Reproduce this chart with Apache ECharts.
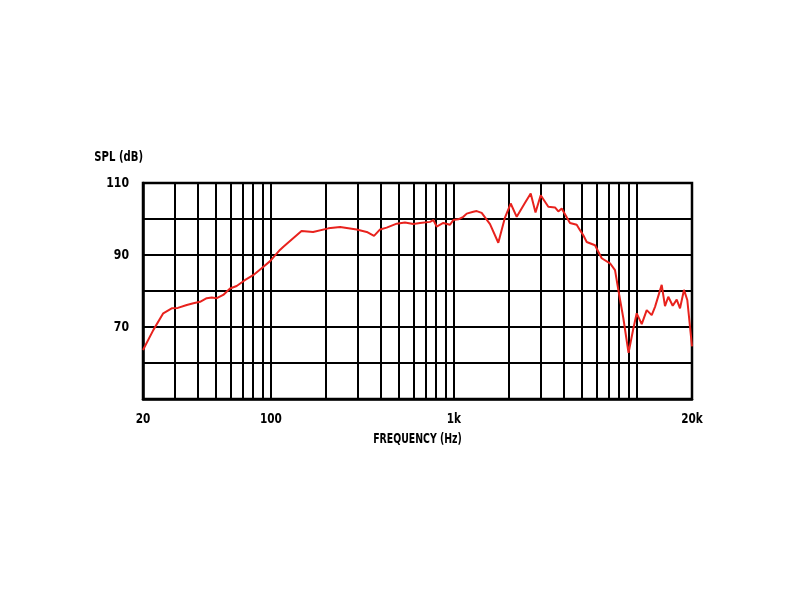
<!DOCTYPE html>
<html>
<head>
<meta charset="utf-8">
<script src="https://cdn.jsdelivr.net/npm/echarts@6/dist/echarts.min.js"></script>
<style>
html,body{margin:0;padding:0;background:#fff;}
#chart{width:800px;height:600px;}
</style>
</head>
<body>
<div id="chart"></div>
<script>
// Frequency (Hz) and SPL (dB)
const freqs = [20, 22.8, 25.8, 28.7, 31, 34.7, 37.7, 41, 44.6, 47.5, 50.6, 54.9, 59.8, 65, 72, 80, 89, 99, 112, 117, 147, 170, 206, 239, 294, 334, 366, 395, 429, 487, 540, 600, 653, 740, 772, 805, 875, 952, 992, 1057, 1126, 1175, 1276, 1332, 1418, 1575, 1748, 1901, 2043, 2204, 2447, 2628, 2792, 2980, 3280, 3568, 3720, 3882, 4308, 4688, 4887, 5094, 5317, 5902, 6421, 7129, 7592, 7915, 8427, 9000, 9556, 9974, 10624, 11314, 12048, 12561, 13660, 14240, 14840, 15690, 16500, 17200, 18080, 18850, 20000];
const spl = [63.6, 69.2, 73.8, 75.2, 75.3, 76.1, 76.6, 77, 78, 78.2, 78, 78.9, 80.7, 81.4, 83, 84.4, 86.3, 88.3, 91.4, 92.3, 96.7, 96.4, 97.4, 97.8, 97.1, 96.4, 95.3, 97.1, 97.6, 98.7, 99, 98.6, 98.9, 99.2, 99.7, 97.9, 98.9, 98.4, 99.7, 99.9, 100.6, 101.5, 102, 102.2, 101.7, 98.6, 93.4, 100.4, 104.3, 100.6, 104.5, 107.1, 101.8, 106.6, 103.4, 103.2, 102.1, 102.9, 98.9, 98.4, 96.9, 95.5, 93.6, 92.7, 89.1, 87.7, 85.8, 80.3, 72.5, 62.8, 69.5, 73.8, 70.8, 74.7, 73.3, 75.6, 81.7, 75.8, 78.4, 75.9, 77.6, 75.2, 80.3, 77.5, 64.6];
// Vertical grid lines (Hz)
const gridFreqs = [30, 40, 50, 60, 70, 80, 90, 100, 200, 300, 400, 500, 600, 700, 800, 900, 1000, 2000, 3000, 4000, 5000, 6000, 7000, 8000, 9000, 10000];
// Axis tick labels
const xTickValues = [20, 100, 1000, 20000];
const xTickLabels = ['20', '100', '1k', '20k'];
const yTickValues = [110, 90, 70];
const xTitle = 'FREQUENCY (Hz)';
const yTitle = 'SPL (dB)';

const FONT = "'DejaVu Sans', sans-serif";
const data = freqs.map((f, i) => [f, spl[i]]);

const chart = echarts.init(document.getElementById('chart'));
chart.setOption({
  animation: false,
  backgroundColor: '#fff',
  grid: {left: 143, right: 108, top: 183, bottom: 201, show: true, borderColor: '#000', borderWidth: 2.5, backgroundColor: 'transparent'},
  xAxis: {
    type: 'log', logBase: 10, min: 20, max: 20000,
    axisLine: {show: true, lineStyle: {color: '#000', width: 2.5}},
    axisTick: {show: false},
    splitLine: {show: false},
    axisLabel: {show: false}
  },
  yAxis: {
    type: 'value', min: 50, max: 110, interval: 10,
    axisLine: {show: true, lineStyle: {color: '#000', width: 2.5}},
    axisTick: {show: false},
    splitLine: {show: true, lineStyle: {color: '#000', width: 2}},
    axisLabel: {show: false}
  },
  series: [
    {
      type: 'line', data: data, z: 1, silent: true, showSymbol: false,
      lineStyle: {opacity: 0},
      markLine: {
        silent: true, symbol: 'none', animation: false,
        label: {show: false},
        lineStyle: {color: '#000', width: 2, type: 'solid'},
        emphasis: {disabled: true},
        data: gridFreqs.map(f => ({xAxis: f}))
      }
    },
    {
      type: 'line', data: data, z: 5, showSymbol: false, smooth: false,
      lineStyle: {color: '#e8221d', width: 2}
    }
  ]
});

// Condensed text labels placed through the axes' own scales
const px = f => chart.convertToPixel({xAxisIndex: 0}, f);
const py = v => chart.convertToPixel({yAxisIndex: 0}, v);
const txt = (text, x, y, align, sx) => ({
  type: 'text', x: x, y: y, scaleX: sx, silent: true,
  style: {text: text, fontFamily: FONT, fontWeight: 'bold', fontSize: 14, fill: '#000', align: align, verticalAlign: 'middle'}
});
const x0 = px(20), x1 = px(20000), yBottom = py(50), yTop = py(110);
const g = [];
xTickValues.forEach((f, i) => g.push(txt(xTickLabels[i], px(f), yBottom + 20, 'center', 0.75)));
yTickValues.forEach(v => g.push(txt(String(v), x0 - 14, py(v), 'right', 0.78)));
g.push(txt(xTitle, (x0 + x1) / 2, yBottom + 40, 'center', 0.67));
g.push(txt(yTitle, x0, yTop - 26, 'right', 0.72));
chart.setOption({graphic: g});
</script>
</body>
</html>
